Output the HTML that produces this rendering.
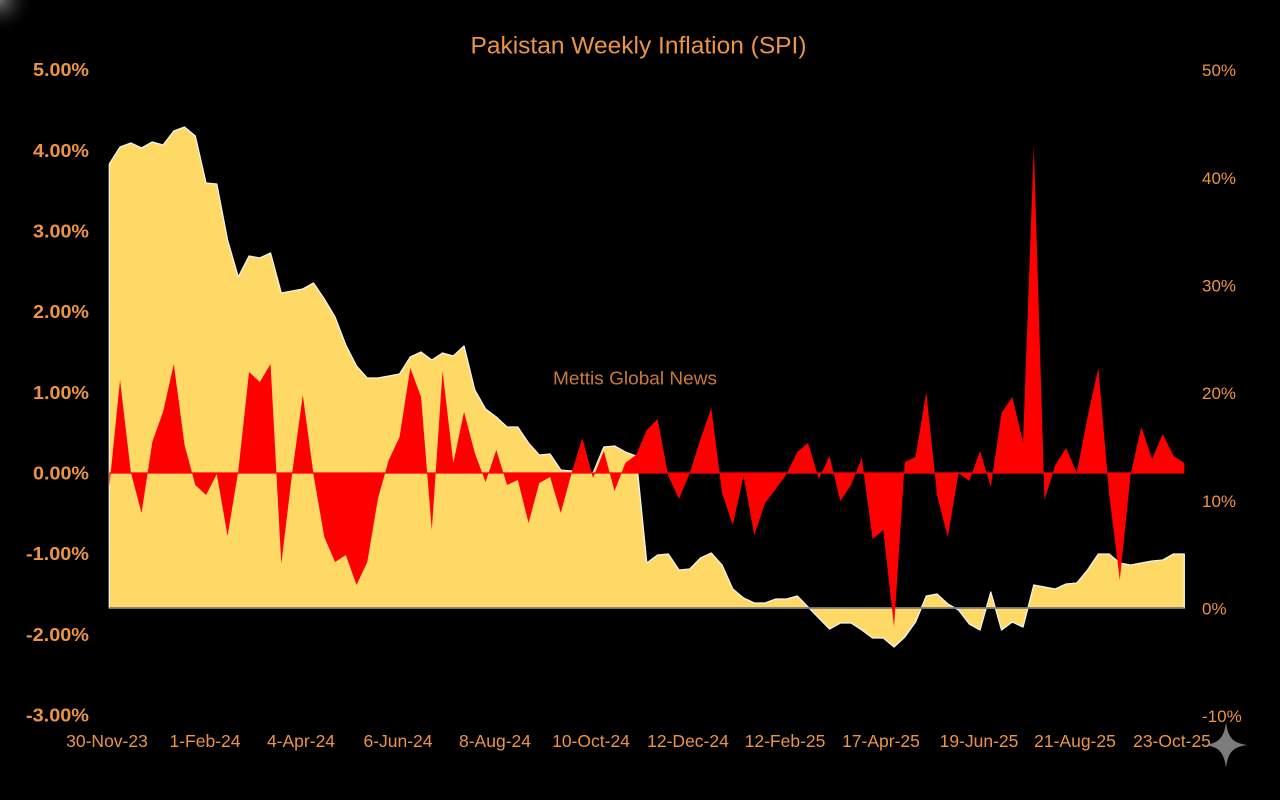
<!DOCTYPE html>
<html>
<head>
<meta charset="utf-8">
<style>
  html,body{margin:0;padding:0;background:#000;}
  body{width:1280px;height:800px;overflow:hidden;}
  svg{display:block;}
  text{font-family:"Liberation Sans",Arial,sans-serif;}
</style>
</head>
<body>
<svg width="1280" height="800" viewBox="0 0 1280 800" xmlns="http://www.w3.org/2000/svg">
  <defs>
    <radialGradient id="glow" cx="0" cy="0" r="1" gradientUnits="objectBoundingBox">
      <stop offset="0" stop-color="#8a8a8a" stop-opacity="0.8"/>
      <stop offset="1" stop-color="#000" stop-opacity="0"/>
    </radialGradient>
  </defs>
  <rect width="1280" height="800" fill="#000"/>
  <rect x="0" y="0" width="34" height="34" fill="url(#glow)"/>

  <!-- Title -->
  <text x="638.5" y="53.5" font-size="24" fill="#EC9445" text-anchor="middle" textLength="336" lengthAdjust="spacingAndGlyphs">Pakistan Weekly Inflation (SPI)</text>

  <!-- Left axis labels -->
  <g font-size="18" font-weight="bold" fill="#EC9445" text-anchor="end">
    <text x="89" y="76.2" textLength="56" lengthAdjust="spacingAndGlyphs">5.00%</text>
    <text x="89" y="156.9" textLength="56" lengthAdjust="spacingAndGlyphs">4.00%</text>
    <text x="89" y="237.5" textLength="56" lengthAdjust="spacingAndGlyphs">3.00%</text>
    <text x="89" y="318.2" textLength="56" lengthAdjust="spacingAndGlyphs">2.00%</text>
    <text x="89" y="398.8" textLength="56" lengthAdjust="spacingAndGlyphs">1.00%</text>
    <text x="89" y="479.5" textLength="56" lengthAdjust="spacingAndGlyphs">0.00%</text>
    <text x="89" y="560.2" textLength="63" lengthAdjust="spacingAndGlyphs">-1.00%</text>
    <text x="89" y="640.8" textLength="63" lengthAdjust="spacingAndGlyphs">-2.00%</text>
    <text x="89" y="721.5" textLength="63" lengthAdjust="spacingAndGlyphs">-3.00%</text>
  </g>

  <!-- Right axis labels -->
  <g font-size="17" fill="#EC9445" text-anchor="start">
    <text x="1202" y="76.2">50%</text>
    <text x="1202" y="183.9">40%</text>
    <text x="1202" y="291.5">30%</text>
    <text x="1202" y="399.2">20%</text>
    <text x="1202" y="506.9">10%</text>
    <text x="1202" y="614.5">0%</text>
    <text x="1202" y="722.2">-10%</text>
  </g>

  <!-- Yellow area (YoY, right axis) -->
  <g transform="translate(109.3,0) scale(10.75,1)">
    <polygon fill="#FFD966" stroke="#F2F2F2" stroke-width="1.3" vector-effect="non-scaling-stroke" stroke-linejoin="round"
      points="0,608 0,164 1,147 2,143 3,148 4,142 5,145 6,131 7,127 8,136 9,183 10,184 11,240 12,277 13,256 14,258 15,253 16,293 17,291 18,289 19,283 20,299 21,317 22,345 23,366 24,378 25,378 26,376 27,374 28,357 29,352 30,360 31,353 32,356 33,346 34,390 35,409 36,417 37,427 38,427 39,443 40,455 41,454 42,470 43,471 44,471 45,473 46,447 47,446 48,452 49,456 50,563 51,555 52,554 53,570 54,569 55,558 56,553 57,565 58,589 59,598 60,603 61,603 62,599 63,599 64,596 65,607 66,618 67,629 68,623 69,623 70,630 71,638 72,638 73,647 74,637 75,622 76,596 77,594 78,604 79,610 80,624 81,630 82,592 83,630 84,622 85,627 86,585 87,587 88,589 89,584 90,583 91,570 92,554 93,554 94,563 95,565 96,563 97,561 98,560 99,554 100,554 100,608"/>
  </g>
  <line x1="109.3" y1="608" x2="1184.3" y2="608" stroke="#7a7a7a" stroke-width="1.8"/>

  <!-- Red area (WoW, left axis) -->
  <g transform="translate(109.3,0) scale(10.75,1)">
    <polygon fill="#FF0000"
      points="0,473 0,487 1,380 2,472 3,513 4,442 5,412 6,364 7,445 8,485 9,495 10,474 11,536 12,471 13,372 14,382 15,364 16,564 17,474 18,395 19,475 20,537 21,562 22,555 23,585 24,562 25,498 26,460 27,437 28,368 29,397 30,530 31,371 32,463 33,412 34,453 35,482 36,450 37,485 38,480 39,523 40,483 41,477 42,513 43,473 44,438 45,478 46,451 47,491 48,463 49,455 50,430 51,419 52,476 53,499 54,473 55,439 56,408 57,493 58,525 59,476 60,535 61,503 62,489 63,474 64,452 65,443 66,479 67,456 68,501 69,485 70,458 71,539 72,530 73,627 74,462 75,457 76,392 77,495 78,537 79,473 80,481 81,451 82,487 83,413 84,397 85,442 86,146 87,500 88,465 89,448 90,473 91,417 92,368 93,493 94,580 95,475 96,427 97,459 98,434 99,456 100,463 100,473"/>
  </g>
  <line x1="109.3" y1="473" x2="1184.3" y2="473" stroke="#FF0000" stroke-width="1.2"/>

  <!-- Watermark text -->
  <text x="635" y="384.3" font-size="18.5" fill="#CB7A35" text-anchor="middle" textLength="164" lengthAdjust="spacingAndGlyphs">Mettis Global News</text>

  <!-- X axis labels -->
  <g font-size="17.5" fill="#EC9445" text-anchor="middle">
    <text x="107" y="747">30-Nov-23</text>
    <text x="205" y="747">1-Feb-24</text>
    <text x="301" y="747">4-Apr-24</text>
    <text x="398" y="747">6-Jun-24</text>
    <text x="495" y="747">8-Aug-24</text>
    <text x="591" y="747">10-Oct-24</text>
    <text x="688" y="747">12-Dec-24</text>
    <text x="785" y="747">12-Feb-25</text>
    <text x="881" y="747">17-Apr-25</text>
    <text x="979" y="747">19-Jun-25</text>
    <text x="1075" y="747">21-Aug-25</text>
    <text x="1172" y="747">23-Oct-25</text>
  </g>

  <!-- Sparkle watermark -->
  <path transform="translate(1226,745)" fill="#8a8a8a" fill-opacity="0.9"
    d="M0,-23 C2,-7 7,-2 21.5,0 C7,2 2,7 0,23 C-2,7 -7,2 -21.5,0 C-7,-2 -2,-7 0,-23 Z"/>
</svg>
</body>
</html>
